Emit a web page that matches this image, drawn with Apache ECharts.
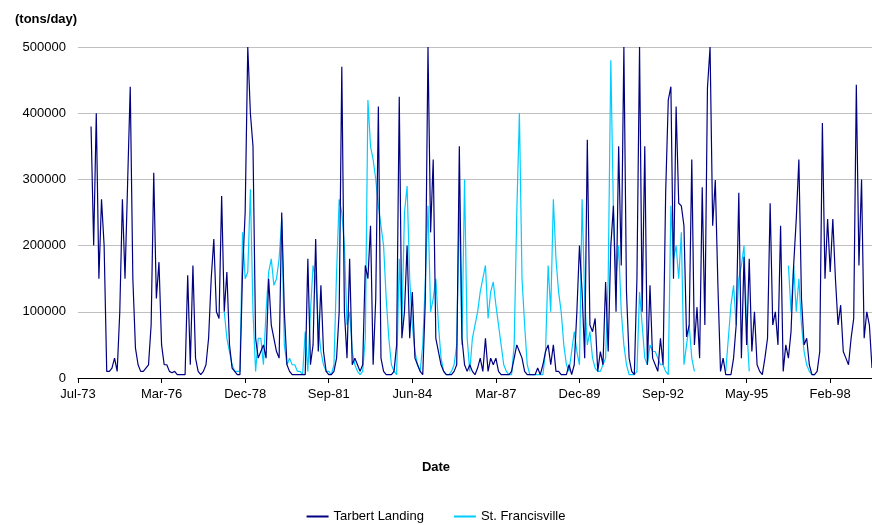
<!DOCTYPE html>
<html>
<head>
<meta charset="utf-8">
<script src="https://cdn.jsdelivr.net/npm/echarts@6/dist/echarts.min.js"></script>
<style>
html, body { margin: 0; padding: 0; background: #fff; }
#main { width: 872px; height: 525px; }
</style>
</head>
<body>
<div id="main"></div>
<script>
// monthly values, thousands of tons/day, Jul-73 .. Jul-98
var tarbert = [null,null,null,null,null,
  380,200,400,150,270,200,10,10,15,30,10,
  100,270,150,295,440,150,45,20,10,10,15,20,
  80,310,120,175,50,20,20,10,8,10,5,5,5,5,
  155,20,170,30,10,5,10,20,60,150,210,100,90,
  275,100,160,50,15,10,5,5,160,250,
  500,400,350,60,30,40,50,30,150,80,60,40,
  30,250,100,20,10,5,5,5,5,5,5,
  180,20,50,210,40,140,40,10,5,5,10,30,100,
  470,100,30,180,20,30,20,10,20,170,150,230,
  20,120,410,30,10,5,5,5,10,50,425,60,
  100,200,60,130,30,20,10,5,120,500,220,330,
  60,40,20,10,5,5,5,10,20,350,60,20,10,20,10,5,
  15,30,10,60,10,30,20,30,10,5,5,5,5,10,30,50,40,30,10,5,
  5,5,5,15,5,20,40,50,20,50,10,10,5,5,5,20,5,20,100,200,
  130,30,360,80,70,90,10,40,20,145,40,200,260,100,350,170,500,130,30,10,
  5,150,500,100,350,20,140,30,20,10,60,20,280,420,
  440,150,410,264,260,230,62,80,330,50,107,30,288,80,438,500,230,299,140,10,
  30,5,5,5,30,80,280,30,183,50,180,40,100,20,10,5,30,60,264,80,
  100,50,230,10,50,30,70,170,240,330,120,50,60,20,5,5,10,40,385,150,
  240,160,240,150,80,110,40,30,20,60,90,443,170,300,60,100,80,15];

var francisville = [];
for (var i = 0; i < 56; i++) francisville.push(null);
francisville = francisville.concat([
  100,60,40,20,10,10,10,220,150,160,285,100,10,60,60,20,100,160,180,140,
  150,180,240,50,20,30,20,20,10,10,5,70,10,100,170,150,80,40,20,10,
  10,5,20,160,270,250,200,80,100,40,20,10,5,10,60,420,350,330,300,260,
  230,200,120,60,20,10,5,180,80,250,290,150,80,40,20,10,50,150,260,100,
  120,150,80,30,10,5,5,10,20,50,270,50,300,60,10,60,80,
  100,130,150,170,90,130,145,110,80,50,20,10,5,5,50,250,400,150,80,20,
  5,5,5,5,5,5,40,170,100,270,180,130,100,50,20,10,40,70,40,20,
  270,120,50,70,30,15,10,10,20,30,150,480,250,150,200,100,50,20,5,5,
  5,10,130,80,30,20,50,40,40,30,20,20,10,5,
  260,180,200,150,220,20,50,80,30,10,
  null,null,null,null,null,null,null,null,null,null,null,
  10,60,110,140,80,150,170,200,80,10,
  null,null,null,null,null,null,null,null,null,null,null,null,null,null,
  170,100,170,100,150,80,40,20,10,5,5]);

var monthNames = ['Jan','Feb','Mar','Apr','May','Jun','Jul','Aug','Sep','Oct','Nov','Dec'];
var categories = [];
for (var m = 0; m < tarbert.length; m++) {
  var k = 6 + m;
  categories.push(monthNames[k % 12] + '-' + String(73 + Math.floor(k / 12)));
}
var tickLabels = ['Jul-73','Mar-76','Dec-78','Sep-81','Jun-84','Mar-87','Dec-89','Sep-92','May-95','Feb-98'];
var labelStep = 32;

function toTons(arr) {
  return arr.map(function (v) { return v === null ? null : v * 1000; });
}

var chart = echarts.init(document.getElementById('main'));
chart.setOption({
  animation: false,
  textStyle: { fontFamily: 'Liberation Sans, Arial, sans-serif' },
  title: [
    { text: '(tons/day)', left: 10, top: 8, textStyle: { fontSize: 13, fontWeight: 'bold', color: '#000' } },
    { text: 'Date', left: 'center', top: 456, textStyle: { fontSize: 13, fontWeight: 'bold', color: '#000' } }
  ],
  legend: {
    bottom: -3, left: 'center', itemWidth: 22, itemHeight: 2, itemGap: 30,
    icon: 'rect',
    textStyle: { fontSize: 13, color: '#000' },
    data: ['Tarbert Landing', 'St. Francisville']
  },
  grid: { left: 78, right: 0, top: 47, bottom: 147 },
  xAxis: {
    type: 'category', data: categories, boundaryGap: false,
    axisLine: { lineStyle: { color: '#000' } },
    axisTick: { interval: labelStep - 1, length: 5, lineStyle: { color: '#000' } },
    axisLabel: {
      interval: labelStep - 1, fontSize: 13, color: '#000', margin: 10,
      formatter: function (v, idx) { return tickLabels[Math.round(idx / labelStep)] || ''; }
    }
  },
  yAxis: {
    type: 'value', min: 0, max: 500000, interval: 100000,
    axisLine: { show: false }, axisTick: { show: false },
    axisLabel: { fontSize: 13, color: '#000', margin: 12,
      formatter: function (v) { return String(v); } },
    splitLine: { lineStyle: { color: '#c0c0c0', width: 1 } }
  },
  series: [
    { name: 'St. Francisville', type: 'line', data: toTons(francisville), showSymbol: false,
      lineStyle: { color: '#00ccff', width: 1.2 }, itemStyle: { color: '#00ccff' }, z: 2 },
    { name: 'Tarbert Landing', type: 'line', data: toTons(tarbert), showSymbol: false,
      lineStyle: { color: '#000080', width: 1.2 }, itemStyle: { color: '#000080' }, z: 3 }
  ]
});
</script>
</body>
</html>
